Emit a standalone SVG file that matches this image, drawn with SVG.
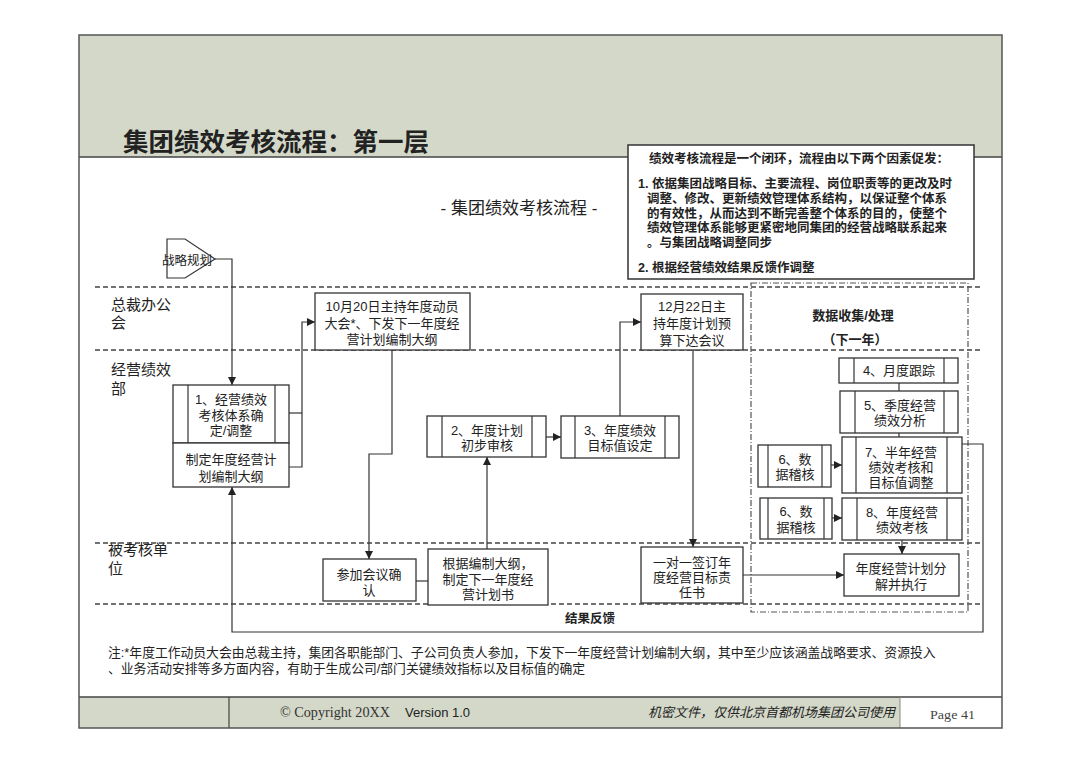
<svg xmlns="http://www.w3.org/2000/svg" width="1080" height="764" viewBox="0 0 1080 764">
<defs>
<marker id="ah" markerWidth="8" markerHeight="8" refX="8" refY="4" orient="auto" markerUnits="userSpaceOnUse"><path d="M0,0 L8,4 L0,8 z" fill="#222"/></marker>
<style>
.t{font-family:"Liberation Sans","Noto Sans CJK SC",sans-serif;fill:#222}
.n{font-size:13px;text-anchor:middle}
.b{font-weight:bold}
.box{fill:#fff;stroke:#333;stroke-width:1.3}
.ln{fill:none;stroke:#333;stroke-width:1.2}
.lane{stroke:#444;stroke-width:1.3;stroke-dasharray:5 3;fill:none}
.dd{fill:none;stroke:#555;stroke-width:1.2;stroke-dasharray:6 2 1 2}
</style>
</defs>
<rect x="0" y="0" width="1080" height="764" fill="#fff"/>
<!-- header -->
<rect x="79" y="35" width="923" height="122" fill="#d3d8c8"/>
<line x1="79" y1="157" x2="1002" y2="157" stroke="#444" stroke-width="1.5"/>
<text class="t b" x="123" y="151" font-size="25.5">集团绩效考核流程：第一层</text>
<!-- footer -->
<rect x="79" y="697" width="821" height="31" fill="#d3d8c8"/>
<line x1="79" y1="697" x2="1002" y2="697" stroke="#444" stroke-width="1.5"/>
<line x1="229" y1="697" x2="229" y2="728" stroke="#444" stroke-width="1.2"/>
<line x1="900" y1="697" x2="900" y2="728" stroke="#888" stroke-width="1"/>
<text x="280" y="717" font-family="Liberation Serif" font-size="14" fill="#333" textLength="110" lengthAdjust="spacingAndGlyphs">© Copyright 20XX</text>
<text class="t" x="405" y="717" font-size="13" fill="#222">Version 1.0</text>
<text class="t" x="648" y="717" font-size="13" font-style="italic">机密文件，仅供北京首都机场集团公司使用</text>
<text x="930" y="719" font-family="Liberation Serif" font-size="13.5" fill="#444" textLength="45" lengthAdjust="spacingAndGlyphs">Page 41</text>
<rect x="79" y="35" width="923" height="693" fill="none" stroke="#555" stroke-width="1.5"/>
<!-- subtitle -->
<text class="t" x="519" y="214" font-size="17" text-anchor="middle">- 集团绩效考核流程 -</text>
<!-- info box -->
<g id="infobox">
<rect x="628" y="145" width="346" height="134" fill="#fff" stroke="#333" stroke-width="1.5"/>
<g class="t b" font-size="12.5">
<text x="799" y="163" text-anchor="middle">绩效考核流程是一个闭环，流程由以下两个因素促发：</text>
<text x="638" y="188">1. 依据集团战略目标、主要流程、岗位职责等的更改及时</text>
<text x="647" y="203">调整、修改、更新绩效管理体系结构，以保证整个体系</text>
<text x="647" y="217.5">的有效性，从而达到不断完善整个体系的目的，使整个</text>
<text x="647" y="232">绩效管理体系能够更紧密地同集团的经营战略联系起来</text>
<text x="647" y="246.5">。与集团战略调整同步</text>
<text x="638" y="272">2. 根据经营绩效结果反馈作调整</text>
</g>
</g>
<!-- lanes -->
<g id="lanes">
<line class="lane" x1="95" y1="287" x2="980" y2="287"/>
<line class="lane" x1="95" y1="350" x2="980" y2="350"/>
<line class="lane" x1="95" y1="543" x2="980" y2="543"/>
<line class="lane" x1="95" y1="604" x2="980" y2="604"/>
<g class="t" font-size="15">
<text x="111" y="310">总裁办公</text><text x="111" y="328">会</text>
<text x="111" y="375">经营绩效</text><text x="111" y="394">部</text>
<text x="108" y="555">被考核单</text><text x="108" y="574">位</text>
</g>
</g>
<!-- data collection group -->
<g id="datagroup">
<rect class="dd" x="751" y="283" width="217" height="329"/>
<text class="t b" x="853" y="320" font-size="13" text-anchor="middle">数据收集/处理</text>
<text class="t b" x="855" y="344" font-size="13" text-anchor="middle">（下一年）</text>
</g>
<!-- connectors -->
<g id="connectors" class="ln">
<path d="M215,259 H232 V385" marker-end="url(#ah)"/>
<path d="M289,413 H302"/>
<path d="M289,467 H302 V322 H315" marker-end="url(#ah)"/>
<path d="M392,350 V454 H369 V559" marker-end="url(#ah)"/>
<path d="M416,581 H428"/>
<path d="M487,549 V457" marker-end="url(#ah)"/>
<path d="M546,437 H561" marker-end="url(#ah)"/>
<path d="M620,416 V322 H641" marker-end="url(#ah)"/>
<path d="M693,350 V547" marker-end="url(#ah)"/>
<path d="M743,575 H844" marker-end="url(#ah)"/>
<path d="M899,383 V391"/>
<path d="M899,433 V437"/>
<path d="M831,465 H842" marker-end="url(#ah)"/>
<path d="M832,518 H842" marker-end="url(#ah)"/>
<path d="M902,540 V554" marker-end="url(#ah)"/>
<path d="M962,444 H983 V632 H232 V487" marker-end="url(#ah)"/>
</g>
<text class="t b" x="590" y="623" font-size="12.5" text-anchor="middle">结果反馈</text>
<!-- nodes -->
<g id="n-strategy">
<path d="M167,239 H185 L215,259 L185,278 H167 Z" fill="#fff" stroke="#333" stroke-width="1.2"/>
<text class="t" x="187" y="265" font-size="12.5" text-anchor="middle">战略规划</text>
</g>
<g id="n1">
<rect class="box" x="173" y="385" width="116" height="58"/>
<line class="ln" x1="188" y1="385" x2="188" y2="443"/>
<line class="ln" x1="275" y1="385" x2="275" y2="443"/>
<text class="t n" x="231" y="404">1、经营绩效</text>
<text class="t n" x="231" y="420">考核体系确</text>
<text class="t n" x="231" y="435">定/调整</text>
<rect class="box" x="173" y="443" width="116" height="44"/>
<text class="t n" x="231" y="464">制定年度经营计</text>
<text class="t n" x="231" y="481">划编制大纲</text>
</g>
<g id="n-oct20">
<rect class="box" x="315" y="293" width="155" height="57"/>
<text class="t n" x="392" y="311">10月20日主持年度动员</text>
<text class="t n" x="392" y="328">大会*、下发下一年度经</text>
<text class="t n" x="392" y="344">营计划编制大纲</text>
</g>
<g id="n-attend">
<rect class="box" x="323" y="559" width="93" height="42"/>
<text class="t n" x="369" y="579">参加会议确</text>
<text class="t n" x="369" y="595">认</text>
</g>
<g id="n-plan">
<rect class="box" x="428" y="549" width="120" height="56"/>
<text class="t n" x="488" y="568">根据编制大纲，</text>
<text class="t n" x="488" y="584">制定下一年度经</text>
<text class="t n" x="488" y="599">营计划书</text>
</g>
<g id="n2">
<rect class="box" x="427" y="416" width="119" height="41"/>
<line class="ln" x1="442" y1="416" x2="442" y2="457"/>
<line class="ln" x1="532" y1="416" x2="532" y2="457"/>
<text class="t n" x="487" y="435">2、年度计划</text>
<text class="t n" x="487" y="450">初步审核</text>
</g>
<g id="n3">
<rect class="box" x="561" y="416" width="118" height="42"/>
<line class="ln" x1="575" y1="416" x2="575" y2="458"/>
<line class="ln" x1="665" y1="416" x2="665" y2="458"/>
<text class="t n" x="620" y="435">3、年度绩效</text>
<text class="t n" x="620" y="450">目标值设定</text>
</g>
<g id="n-dec22">
<rect class="box" x="641" y="294" width="102" height="56"/>
<text class="t n" x="692" y="311">12月22日主</text>
<text class="t n" x="692" y="328">持年度计划预</text>
<text class="t n" x="692" y="345">算下达会议</text>
</g>
<g id="n-sign">
<rect class="box" x="641" y="547" width="102" height="56"/>
<text class="t n" x="692" y="567">一对一签订年</text>
<text class="t n" x="692" y="582">度经营目标责</text>
<text class="t n" x="692" y="597">任书</text>
</g>
<g id="n-exec">
<rect class="box" x="844" y="554" width="115" height="42"/>
<text class="t n" x="901" y="573">年度经营计划分</text>
<text class="t n" x="901" y="589">解并执行</text>
</g>
<g id="n4">
<rect class="box" x="839" y="358" width="119" height="25"/>
<line class="ln" x1="854" y1="358" x2="854" y2="383"/>
<line class="ln" x1="944" y1="358" x2="944" y2="383"/>
<text class="t n" x="899" y="375">4、月度跟踪</text>
</g>
<g id="n5">
<rect class="box" x="840" y="391" width="118" height="42"/>
<line class="ln" x1="855" y1="391" x2="855" y2="433"/>
<line class="ln" x1="944" y1="391" x2="944" y2="433"/>
<text class="t n" x="900" y="410">5、季度经营</text>
<text class="t n" x="900" y="425">绩效分析</text>
</g>
<g id="n7">
<rect class="box" x="842" y="437" width="120" height="56"/>
<line class="ln" x1="856" y1="437" x2="856" y2="493"/>
<line class="ln" x1="947" y1="437" x2="947" y2="493"/>
<text class="t n" x="901" y="457">7、半年经营</text>
<text class="t n" x="901" y="472">绩效考核和</text>
<text class="t n" x="901" y="487">目标值调整</text>
</g>
<g id="n6a">
<rect class="box" x="758" y="445" width="73" height="42"/>
<line class="ln" x1="768" y1="445" x2="768" y2="487"/>
<line class="ln" x1="822" y1="445" x2="822" y2="487"/>
<text class="t n" x="795" y="464">6、数</text>
<text class="t n" x="795" y="479">据稽核</text>
</g>
<g id="n6b">
<rect class="box" x="760" y="498" width="72" height="41"/>
<line class="ln" x1="768" y1="498" x2="768" y2="539"/>
<line class="ln" x1="824" y1="498" x2="824" y2="539"/>
<text class="t n" x="796" y="516">6、数</text>
<text class="t n" x="796" y="532">据稽核</text>
</g>
<g id="n8">
<rect class="box" x="842" y="498" width="120" height="42"/>
<line class="ln" x1="857" y1="498" x2="857" y2="540"/>
<line class="ln" x1="947" y1="498" x2="947" y2="540"/>
<text class="t n" x="902" y="517">8、年度经营</text>
<text class="t n" x="902" y="532">绩效考核</text>
</g>
<!-- note -->
<g class="t" font-size="12.8">
<text x="108" y="657">注:*年度工作动员大会由总裁主持，集团各职能部门、子公司负责人参加，下发下一年度经营计划编制大纲，其中至少应该涵盖战略要求、资源投入</text>
<text x="108" y="673">、业务活动安排等多方面内容，有助于生成公司/部门关键绩效指标以及目标值的确定</text>
</g>
</svg>
